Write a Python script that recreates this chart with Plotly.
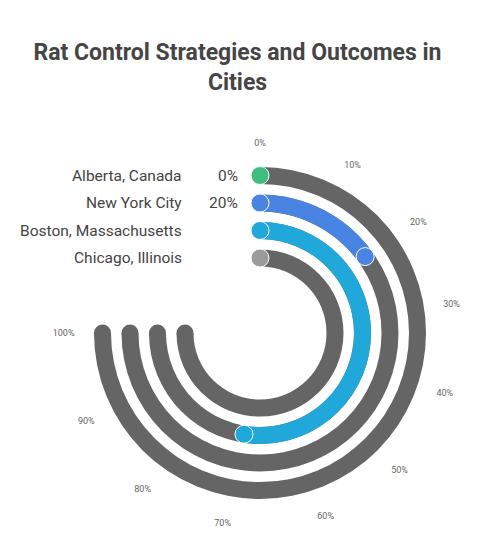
import numpy as np
import plotly.graph_objects as go

# ---- data ----
cities = ["Alberta, Canada", "New York City", "Boston, Massachusetts", "Chicago, Illinois"]
values = [0, 20, 70, 0]            # percent
value_labels = ["0%", "20%", "", ""]
bar_colors = ["#3DBE7E", "#4A84E2", "#21A8DA", "#9B9B9B"]
tick_pcts = [0, 10, 20, 30, 40, 50, 60, 70, 80, 90, 100]
tick_labels = [f"{p}%" for p in tick_pcts]

# ---- layout geometry (pixels) ----
W_PX, H_PX = 483, 538
CX, CY = 252, 325          # polar centre (nominal)
R = 185                    # polar radius
L = CX - R
T = CY - R
RM = W_PX - L - 2 * R
BM = H_PX - T - 2 * R
SWEEP = 270.0
TRACK_W = 17
radii = [157.5, 130, 102.5, 75]
TRACK_COLOR = "#656565"

def px_to_paper(x, y):
    return (x - L) / (2 * R), 1 - (y - T) / (2 * R)

fig = go.Figure()

# gray tracks
for i, rad in enumerate(radii):
    fig.add_trace(go.Barpolar(
        r=[TRACK_W], base=[rad - TRACK_W / 2], theta=[SWEEP / 2], width=[SWEEP],
        marker=dict(color=TRACK_COLOR, line=dict(width=0)),
        hoverinfo="skip", showlegend=False))
    fig.add_trace(go.Scatterpolar(
        r=[rad, rad], theta=[0, SWEEP], mode="markers",
        marker=dict(size=TRACK_W, color=TRACK_COLOR, line=dict(width=0)),
        hoverinfo="skip", showlegend=False))

# value bars
for i, (rad, v, c) in enumerate(zip(radii, values, bar_colors)):
    ang = v / 100 * SWEEP
    if v > 0:
        fig.add_trace(go.Barpolar(
            r=[TRACK_W], base=[rad - TRACK_W / 2], theta=[ang / 2], width=[ang],
            marker=dict(color=c, line=dict(width=0)),
            hoverinfo="skip", showlegend=False))
    fig.add_trace(go.Scatterpolar(
        r=[rad, rad] if v > 0 else [rad], theta=[0, ang] if v > 0 else [0],
        mode="markers",
        marker=dict(size=TRACK_W + 1, color=c, line=dict(width=1, color="white")),
        hoverinfo="skip", showlegend=False))

# legend-like labels
ann = []
for name, lab, rad in zip(cities, value_labels, radii):
    x1, y1 = px_to_paper(CX - 76, CY - rad)
    ann.append(dict(x=x1, y=y1, xref="paper", yref="paper", text=name,
                    showarrow=False, xanchor="right", yanchor="middle",
                    font=dict(size=15.5, color="#444444", family="Roboto")))
    if lab:
        x2, _ = px_to_paper(CX - 20, 0)
        ann.append(dict(x=x2, y=y1, xref="paper", yref="paper", text=lab,
                        showarrow=False, xanchor="right", yanchor="middle",
                        font=dict(size=15.5, color="#444444", family="Roboto")))

fig.update_layout(
    width=W_PX, height=H_PX,
    margin=dict(l=L, r=RM, t=T, b=BM),
    paper_bgcolor="white", plot_bgcolor="white",
    font=dict(family="Roboto"),
    title=dict(text="<b>Rat Control Strategies and Outcomes in<br>Cities</b>",
               x=229.5 / W_PX, xanchor="center", y=1 - 52 / H_PX, yanchor="top",
               yref="container",
               font=dict(size=23, color="#454545", family="Roboto")),
    polar=dict(
        bgcolor="white",
        domain=dict(x=[0, 1], y=[0, 1]),
        radialaxis=dict(visible=False, range=[0, R]),
        angularaxis=dict(rotation=90, direction="clockwise", showgrid=False,
                         showline=False, ticks="", tickmode="array",
                         tickvals=[p / 100 * SWEEP for p in tick_pcts],
                         ticktext=tick_labels,
                         tickfont=dict(size=9, color="#666666", family="Roboto")),
        barmode="overlay",
    ),
    annotations=ann,
    showlegend=False,
)

fig.write_html("out.html")
